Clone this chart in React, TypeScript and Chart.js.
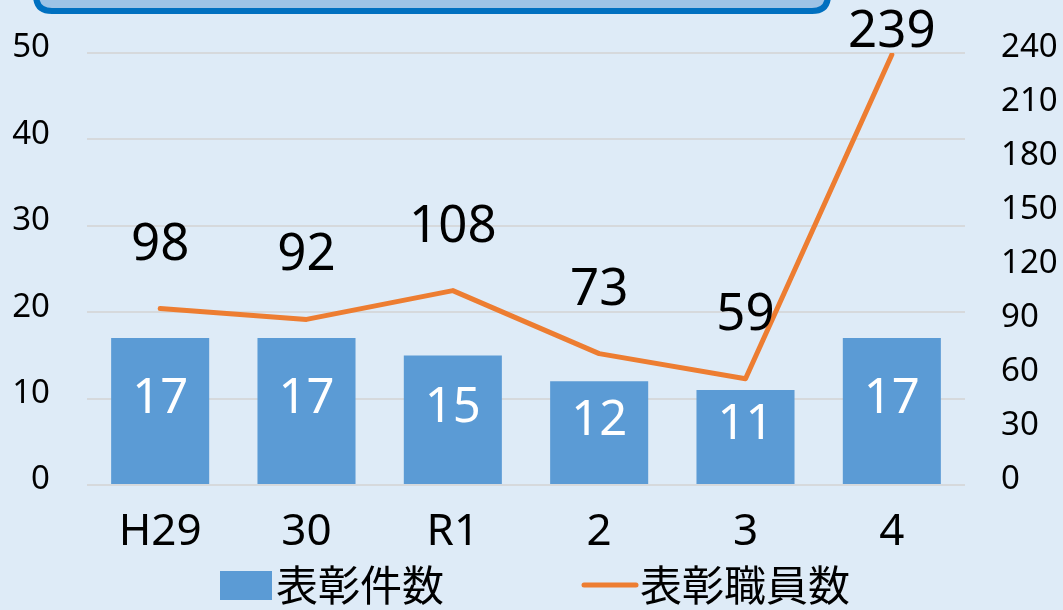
import React, { useEffect, useRef } from "react";
import { Chart, registerables } from "chart.js";

Chart.register(...registerables);

const categories = ["H29", "30", "R1", "2", "3", "4"];
const awardCounts = [17, 17, 15, 12, 11, 17];
const awardedStaff = [98, 92, 108, 73, 59, 239];
const leftTicks = { min: 0, max: 50, step: 10 };
const rightTicks = { min: 0, max: 240, step: 30 };
const seriesNames = ["表彰件数", "表彰職員数"];

const BG = "#DEEBF7";
const BAR = "#5B9BD5";
const LINE = "#ED7D31";
const NUM_FONT = "'Noto Sans', 'DejaVu Sans', sans-serif";
const CJK_FONT = "'Noto Sans CJK JP', sans-serif";

const decorPlugin = {
  id: "decor",
  beforeDraw(chart: any) {
    const ctx = chart.ctx;
    ctx.save();
    ctx.fillStyle = BG;
    ctx.fillRect(0, 0, chart.width, chart.height);
    // top title box (cut off at top)
    const x = 36, y = -40, w = 792, h = 51, r = 16;
    ctx.beginPath();
    ctx.moveTo(x + r, y);
    ctx.lineTo(x + w - r, y);
    ctx.quadraticCurveTo(x + w, y, x + w, y + r);
    ctx.lineTo(x + w, y + h - r);
    ctx.quadraticCurveTo(x + w, y + h, x + w - r, y + h);
    ctx.lineTo(x + r, y + h);
    ctx.quadraticCurveTo(x, y + h, x, y + h - r);
    ctx.lineTo(x, y + r);
    ctx.quadraticCurveTo(x, y, x + r, y);
    ctx.closePath();
    ctx.fillStyle = "#9DC3E6";
    ctx.fill();
    ctx.lineWidth = 6;
    ctx.strokeStyle = "#0070C0";
    ctx.stroke();
    ctx.restore();
  },
  afterDatasetsDraw(chart: any) {
    const ctx = chart.ctx;
    ctx.save();
    ctx.textAlign = "center";
    ctx.textBaseline = "alphabetic";
    // bar labels
    const barMeta = chart.getDatasetMeta(0);
    ctx.font = `49px ${NUM_FONT}`;
    ctx.fillStyle = "#FFFFFF";
    barMeta.data.forEach((el: any, i: number) => {
      const by = (el.y + el.base) / 2 + 2;
      ctx.fillText(String(chart.data.datasets[0].data[i]), el.x, by);
    });
    // line labels
    const lineMeta = chart.getDatasetMeta(1);
    ctx.font = `51px ${NUM_FONT}`;
    ctx.fillStyle = "#000000";
    lineMeta.data.forEach((el: any, i: number) => {
      const by = Math.max(el.y - 49, 47);
      ctx.fillText(String(chart.data.datasets[1].data[i]), el.x, by);
    });
    ctx.restore();
  },
  afterDraw(chart: any) {
    const ctx = chart.ctx;
    ctx.save();
    const ly = 585;
    // bar legend
    ctx.fillStyle = BAR;
    ctx.fillRect(220, ly - 14, 52, 29);
    ctx.font = `42px ${CJK_FONT}`;
    ctx.fillStyle = "#000000";
    ctx.textAlign = "left";
    ctx.textBaseline = "middle";
    ctx.fillText(chart.data.datasets[0].label, 276, ly);
    // line legend
    ctx.strokeStyle = LINE;
    ctx.lineWidth = 5;
    ctx.lineCap = "round";
    ctx.beginPath();
    ctx.moveTo(584, ly);
    ctx.lineTo(636, ly);
    ctx.stroke();
    ctx.fillText(chart.data.datasets[1].label, 640, ly);
    ctx.restore();
  },
};

export default function App() {
  const ref = useRef<HTMLCanvasElement>(null);
  useEffect(() => {
    document.body.style.margin = "0";
    document.body.style.background = BG;
    const chart = new Chart(ref.current!, {
      type: "bar",
      data: {
        labels: categories,
        datasets: [
          {
            type: "bar",
            label: seriesNames[0],
            data: awardCounts,
            backgroundColor: BAR,
            yAxisID: "y",
            categoryPercentage: 1,
            barPercentage: 0.67,
            order: 2,
          },
          {
            type: "line",
            label: seriesNames[1],
            data: awardedStaff,
            borderColor: LINE,
            backgroundColor: LINE,
            borderWidth: 5,
            pointRadius: 0,
            borderCapStyle: "round",
            borderJoinStyle: "round",
            yAxisID: "y1",
            order: 1,
          } as any,
        ],
      },
      options: {
        responsive: false,
        animation: false,
        layout: { padding: { top: 53, left: 0, right: 0, bottom: 0 } },
        plugins: { legend: { display: false }, tooltip: { enabled: false } },
        scales: {
          x: {
            grid: { display: false, drawTicks: false },
            border: { display: false },
            ticks: { color: "#000", font: { family: NUM_FONT, size: 44 }, padding: 21, maxRotation: 0 },
            afterFit(scale: any) {
              scale.height = 125;
              scale.paddingLeft = 0;
              scale.paddingRight = 0;
            },
          },
          y: {
            position: "left",
            min: leftTicks.min,
            max: leftTicks.max,
            ticks: { stepSize: leftTicks.step, color: "#000", font: { family: NUM_FONT, size: 33 }, padding: 37, labelOffset: -5 },
            grid: { color: "#D6D9DC", lineWidth: 2, drawTicks: false },
            border: { display: false },
            afterFit(scale: any) {
              scale.width = 87;
              scale.paddingTop = 0;
              scale.paddingBottom = 0;
            },
          },
          y1: {
            position: "right",
            min: rightTicks.min,
            max: rightTicks.max,
            ticks: { stepSize: rightTicks.step, color: "#000", font: { family: NUM_FONT, size: 33 }, padding: 36, labelOffset: -5 },
            grid: { display: false, drawTicks: false },
            border: { display: false },
            afterFit(scale: any) {
              scale.width = 98;
              scale.paddingTop = 0;
              scale.paddingBottom = 0;
            },
          },
        },
      },
      plugins: [decorPlugin],
    });
    return () => chart.destroy();
  }, []);
  return <canvas ref={ref} width={1063} height={610} style={{ display: "block" }} />;
}
